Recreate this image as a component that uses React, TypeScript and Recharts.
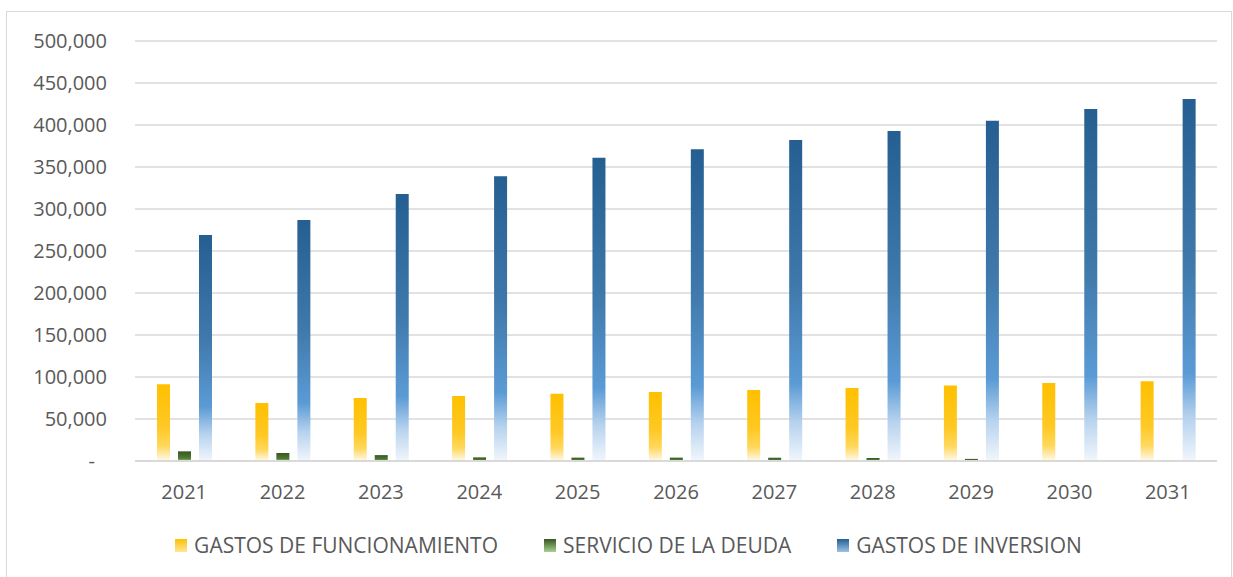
import { BarChart, Bar, XAxis, YAxis, CartesianGrid, Legend } from 'recharts';

const years = ['2021', '2022', '2023', '2024', '2025', '2026', '2027', '2028', '2029', '2030', '2031'];
const funcionamiento = [91500, 69000, 75000, 77500, 80000, 82000, 84500, 87000, 90000, 93000, 95000];
const deuda = [11500, 9500, 7000, 4300, 4000, 4000, 3900, 3600, 2500, 0, 0];
const inversion = [269000, 287000, 318000, 339000, 361000, 371000, 382000, 393000, 405000, 419000, 431000];
const yTicks = [0, 50000, 100000, 150000, 200000, 250000, 300000, 350000, 400000, 450000, 500000];

const seriesNames = ['GASTOS DE FUNCIONAMIENTO', 'SERVICIO DE LA DEUDA', 'GASTOS DE INVERSION'];

const data = years.map((year, i) => ({
  year,
  funcionamiento: funcionamiento[i],
  deuda: deuda[i],
  inversion: inversion[i],
}));

const tickFont = { fontFamily: '"Open Sans", sans-serif', fontSize: 20, fill: '#595959' };

const YTick = (props: any) => {
  const { x, y, payload } = props;
  const v = payload.value;
  const label = v === 0 ? '-' : v.toLocaleString('en-US');
  return (
    <text x={v === 0 ? x - 12 : x} y={y} dy={7} textAnchor="end" {...tickFont}>
      {label}
    </text>
  );
};

const legendItems = [
  { name: seriesNames[0], fill: 'url(#legYellow)' },
  { name: seriesNames[1], fill: 'url(#legGreen)' },
  { name: seriesNames[2], fill: 'url(#legBlue)' },
];

const LegendContent = () => (
  <div style={{ display: 'flex', justifyContent: 'center', gap: 46, paddingLeft: 40, marginTop: 20 }}>
    {legendItems.map((item, i) => (
      <div key={i} style={{ display: 'flex', alignItems: 'center', gap: 7 }}>
        <svg width={12} height={13}>
          <defs>
            <linearGradient id="legYellow" x1="0" y1="0" x2="0" y2="1">
              <stop offset="0%" stopColor="#FFC000" />
              <stop offset="100%" stopColor="#FFE699" />
            </linearGradient>
            <linearGradient id="legGreen" x1="0" y1="0" x2="0" y2="1">
              <stop offset="0%" stopColor="#375623" />
              <stop offset="100%" stopColor="#A9D18E" />
            </linearGradient>
            <linearGradient id="legBlue" x1="0" y1="0" x2="0" y2="1">
              <stop offset="0%" stopColor="#255E91" />
              <stop offset="100%" stopColor="#9DC3E6" />
            </linearGradient>
          </defs>
          <rect width={12} height={13} fill={item.fill} />
        </svg>
        <span
          style={{
            fontFamily: '"Open Sans", sans-serif',
            fontSize: 21,
            color: '#595959',
          }}
        >
          {item.name}
        </span>
      </div>
    ))}
  </div>
);

export default function App() {
  return (
    <div style={{ position: 'fixed', left: 0, top: 0, width: 1233, height: 577, background: '#fff' }}>
      <div
        style={{
          position: 'absolute',
          left: 6,
          top: 11,
          width: 1226,
          height: 580,
          border: '1px solid #D9D9D9',
          boxSizing: 'border-box',
        }}
      />
      <div style={{ position: 'absolute', left: 0, top: 0 }}>
        <BarChart
          width={1233}
          height={577}
          data={data}
          margin={{ top: 41, right: 16, bottom: 10, left: 0 }}
          barSize={13}
          barGap={8}
        >
          <defs>
            <linearGradient id="gYellow" x1="0" y1="0" x2="0" y2="1">
              <stop offset="0%" stopColor="#FFC000" />
              <stop offset="55%" stopColor="#FFC823" />
              <stop offset="80%" stopColor="#FFD75A" />
              <stop offset="100%" stopColor="#FFF9EC" />
            </linearGradient>
            <linearGradient id="gGreen" x1="0" y1="0" x2="0" y2="1">
              <stop offset="0%" stopColor="#375623" />
              <stop offset="70%" stopColor="#4F7A35" />
              <stop offset="100%" stopColor="#8CC36A" />
            </linearGradient>
            <linearGradient id="gBlue" x1="0" y1="0" x2="0" y2="1">
              <stop offset="0%" stopColor="#255E91" />
              <stop offset="45%" stopColor="#3F78AA" />
              <stop offset="76%" stopColor="#5B9BD5" />
              <stop offset="88%" stopColor="#B6D2EE" />
              <stop offset="100%" stopColor="#F1F6FC" />
            </linearGradient>
          </defs>
          <CartesianGrid vertical={false} stroke="#D9D9D9" strokeWidth={1.3} />
          <XAxis
            dataKey="year"
            axisLine={{ stroke: '#D9D9D9', strokeWidth: 2 }}
            tickLine={false}
            tick={tickFont}
            tickMargin={18}
            height={50}
          />
          <YAxis
            width={135}
            domain={[0, 500000]}
            ticks={yTicks}
            axisLine={false}
            tickLine={false}
            tickSize={6}
            tickMargin={22}
            tick={<YTick />}
            interval={0}
          />
          <Legend verticalAlign="bottom" height={56} content={<LegendContent />} />
          <Bar dataKey="funcionamiento" name={seriesNames[0]} fill="url(#gYellow)" isAnimationActive={false} />
          <Bar dataKey="deuda" name={seriesNames[1]} fill="url(#gGreen)" isAnimationActive={false} />
          <Bar dataKey="inversion" name={seriesNames[2]} fill="url(#gBlue)" isAnimationActive={false} />
        </BarChart>
      </div>
    </div>
  );
}
